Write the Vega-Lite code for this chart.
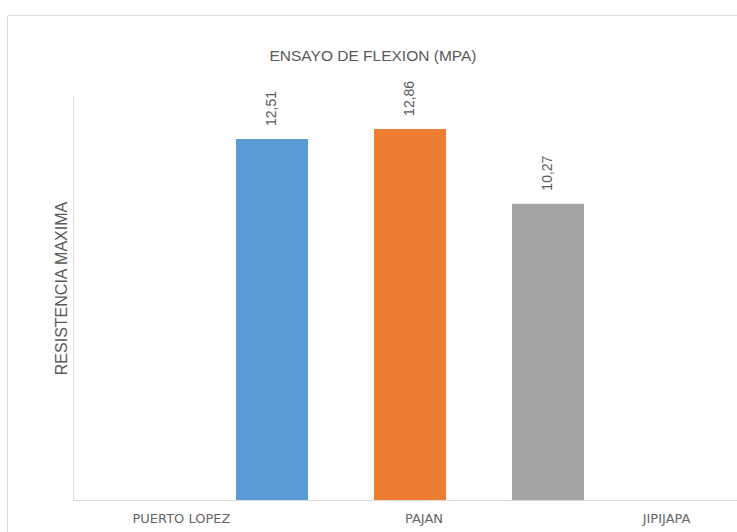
{
  "$schema": "https://vega.github.io/schema/vega-lite/v6.json",
  "width": 732,
  "height": 530,
  "padding": {"left": 7, "top": 15, "right": 0, "bottom": 0},
  "title": {
    "text": "ENSAYO DE FLEXION (MPA)",
    "anchor": "middle",
    "frame": "group",
    "offset": -49,
    "font": "Liberation Sans",
    "fontSize": 15.5,
    "fontWeight": "normal",
    "color": "#595959"
  },
  "data": {
    "values": [
      {"ciudad": "PUERTO LOPEZ", "valor": 12.51},
      {"ciudad": "PAJAN", "valor": 12.86},
      {"ciudad": "JIPIJAPA", "valor": 10.27}
    ]
  },
  "resolve": {"scale": {"x": "independent"}, "axis": {"x": "independent"}},
  "layer": [
    {
      "mark": {"type": "point", "opacity": 0},
      "encoding": {
        "x": {
          "field": "ciudad",
          "type": "nominal",
          "sort": null,
          "scale": {"type": "point", "range": [66, 767], "padding": 0.445},
          "axis": {
            "orient": "bottom",
            "offset": -45,
            "title": null,
            "ticks": false,
            "grid": false,
            "domainColor": "#D9D9D9",
            "domainWidth": 1,
            "labelAngle": 0,
            "labelFont": "DejaVu Sans",
            "labelFontSize": 13,
            "labelColor": "#666666",
            "labelPadding": 12
          }
        },
        "y": {
          "field": "valor",
          "type": "quantitative",
          "scale": {"domain": [0, 14], "range": [485, 81], "nice": false, "zero": true},
          "axis": {
            "orient": "left",
            "offset": -66,
            "title": "RESISTENCIA MAXIMA",
            "titleFont": "Liberation Sans",
            "titleFontSize": 16,
            "titleFontWeight": "normal",
            "titleColor": "#595959",
            "titlePadding": 4,
            "titleY": 273,
            "labels": false,
            "ticks": false,
            "grid": false,
            "domainColor": "#D9D9D9",
            "domainWidth": 1
          }
        }
      }
    },
    {
      "encoding": {
        "x": {
          "field": "ciudad",
          "type": "nominal",
          "sort": null,
          "scale": {"type": "band", "range": [196, 610], "paddingInner": 0.478, "paddingOuter": 0.239},
          "axis": null
        },
        "y": {"field": "valor", "type": "quantitative"}
      },
      "layer": [
        {
          "mark": {"type": "bar"},
          "encoding": {
            "color": {
              "field": "ciudad",
              "type": "nominal",
              "sort": null,
              "scale": {
                "domain": ["PUERTO LOPEZ", "PAJAN", "JIPIJAPA"],
                "range": ["#5B9BD5", "#ED7D31", "#A5A5A5"]
              },
              "legend": null
            }
          }
        },
        {
          "mark": {
            "type": "text",
            "angle": 270,
            "align": "left",
            "baseline": "middle",
            "dx": 13,
            "font": "Liberation Sans",
            "fontSize": 14,
            "color": "#595959"
          },
          "encoding": {
            "text": {"field": "valor", "type": "quantitative", "format": ".2f"}
          }
        }
      ]
    }
  ],
  "config": {
    "locale": {
      "number": {"decimal": ",", "thousands": ".", "grouping": [3], "currency": ["", " €"]}
    },
    "view": {"stroke": "#D9D9D9", "strokeWidth": 1},
    "background": "white"
  }
}
